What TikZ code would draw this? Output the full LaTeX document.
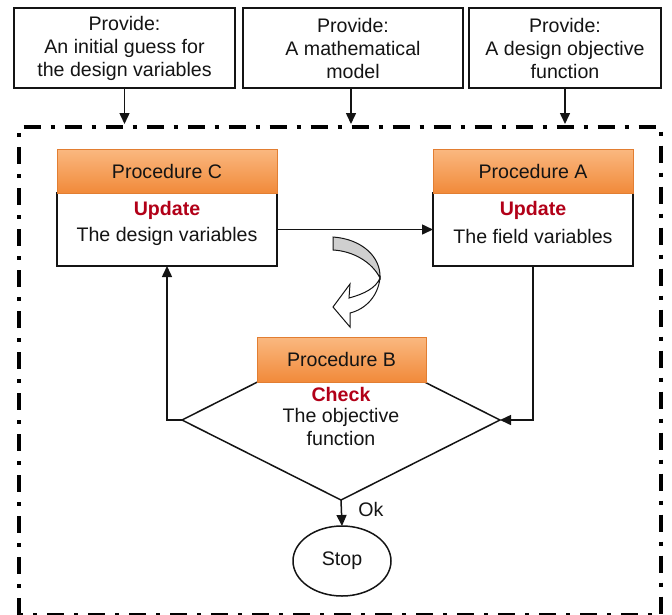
\documentclass[tikz,border=0pt]{standalone}
\usepackage{fontspec}
\setmainfont{Liberation Sans}
\usetikzlibrary{shapes.geometric,arrows.meta}
\definecolor{hdtop}{RGB}{250,184,128}
\definecolor{hdbot}{RGB}{241,138,58}
\definecolor{hdline}{RGB}{226,126,50}
\definecolor{upred}{RGB}{178,0,24}
\definecolor{ink}{RGB}{20,20,20}
\begin{document}
\begin{tikzpicture}[x=1pt,y=-1pt,
  every node/.style={font=\fontsize{19.6}{23}\selectfont, text=ink, inner sep=0pt, outer sep=0pt},
  provbox/.style={draw=ink, line width=1.5pt, fill=white, minimum height=80pt, align=center},
  header/.style={draw=hdline, line width=0.8pt, top color=hdtop, bottom color=hdbot, minimum height=44pt},
  body/.style={draw=ink, line width=1.5pt, fill=white, minimum height=73pt},
  arr/.style={draw=ink, line width=1.5pt, -{Triangle[length=11pt,width=10pt]}},
  frame/.style={draw=black, line width=4pt, dash pattern=on 17pt off 10pt on 4pt off 10pt},
  hilite/.style={text=upred, font=\fontsize{19.6}{23}\selectfont\bfseries}
]
\useasboundingbox (0,0) rectangle (672,614);

% dash-dot frame around the iterative loop
\draw[frame] (19,614.5) -- (19,127) -- (661,127) -- (661,614.5) -- cycle;

% inputs
\node[provbox, minimum width=221pt] (p1) at (124.5,48) {Provide:\\An initial guess for\\the design variables};
\node[provbox, minimum width=220pt] (p2) at (353,48) {Provide:\\A mathematical\\model};
\node[provbox, minimum width=192pt] (p3) at (565,48) {Provide:\\A design objective\\function};
\coordinate (i1) at (124.5,124);
\coordinate (i2) at (351,124);
\coordinate (i3) at (565,124);
\draw[arr] (p1.south) -- (i1);
\draw[arr] (p2.south -| i2) -- (i2);
\draw[arr] (p3.south) -- (i3);

% procedure C
\node[body, minimum width=220pt] (bc) at (167,229.5) {};
\node[header, minimum width=220pt] (hc) at (167,171) {Procedure C};
\node[hilite] (uc) at (167,210) {Update};
\node (tc) at (167,236) {The design variables};

% procedure A
\node[body, minimum width=200pt] (ba) at (533,229.5) {};
\node[header, minimum width=200pt] (ha) at (533,171) {Procedure A};
\node[hilite] (ua) at (533,210) {Update};
\node (ta) at (533,236) {The field variables};

\draw[arr] (bc.east) -- (ba.west);

% procedure B: decision
\node[draw=ink, line width=1.5pt, shape=diamond, minimum width=318pt, minimum height=160pt] (dia) at (341,420) {};
\node[header, minimum width=169pt, minimum height=45pt] (hb) at (341.5,359.5) {Procedure B};
\node[hilite] (ub) at (341,394) {Check};
\node[align=center] (tb) at (341,427) {The objective\\function};

\draw[arr] (dia.west) -| (bc.south);
\draw[arr] (ba.south) |- (dia.east);

% stop
\node[draw=ink, line width=1.5pt, shape=ellipse, minimum width=98pt, minimum height=70pt] (stop) at (342,561) {Stop};
\draw[arr] (dia.south) -- (stop.north);
\node (ok) at (371,509) {Ok};

% curved turn arrow
\draw[line width=1pt, draw=ink, fill=white] (380,278) .. controls (378,296) and (366,309) .. (350,313) -- (350,327) -- (333,307) -- (350,284) -- (349,298) .. controls (364,294) and (376,288) .. (380,278) -- cycle;
\draw[line width=1pt, draw=ink, fill=gray!38] (333,237) .. controls (362,239) and (381,257) .. (380,278) .. controls (372,262) and (353,251) .. (333,250) -- cycle;
\end{tikzpicture}
\end{document}
